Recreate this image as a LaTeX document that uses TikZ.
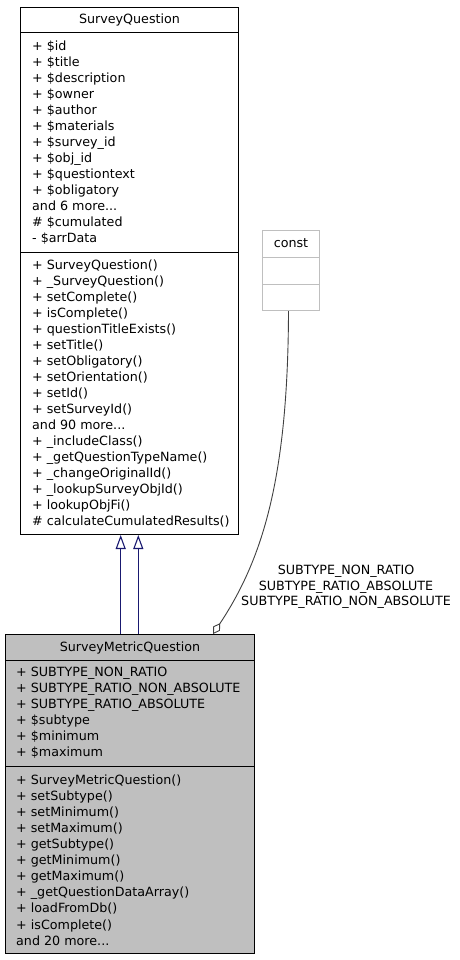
\documentclass[tikz,border=0pt]{standalone}
\usepackage{fontspec}
\setmainfont{DejaVu Sans}
\usetikzlibrary{arrows.meta,calc}
\definecolor{inhblue}{HTML}{191970}
\definecolor{aggray}{HTML}{404040}
\definecolor{boxgray}{HTML}{BFBFBF}
\definecolor{constgray}{HTML}{BFBFBF}
\newcommand{\mydots}{...}
\tikzset{
  txt/.style={anchor=base west,inner sep=0pt,font=\fontsize{12.7}{16}\selectfont},
  ttl/.style={anchor=base,inner sep=0pt,font=\fontsize{12.7}{16}\selectfont},
  classbox/.style={draw=black,line width=1pt,inner sep=0pt,anchor=north west},
  divider/.style={draw=black,line width=1pt},
  inh/.style={draw=inhblue,line width=1.1pt,-{Triangle[open,length=14pt,width=10pt]}},
  agg/.style={draw=aggray,line width=0.9pt,-{Diamond[open,length=13pt,width=8pt]}},
}
\begin{document}
\begin{tikzpicture}[x=1pt,y=-1pt]
\useasboundingbox (0,0) rectangle (459,960);
% SurveyQuestion
\node[classbox,minimum width=218pt,minimum height=527pt] (sq) at (20,7) {};
\draw[divider] ($(sq.north west)+(0,26)$) -- ($(sq.north east)+(0,26)$);
\draw[divider] ($(sq.north west)+(0,245.7)$) -- ($(sq.north east)+(0,245.7)$);
\node[ttl] (sqt) at ($(sq.north)+(0,17)$) {SurveyQuestion};
\foreach \t [count=\i] in {+ \$id,+ \$title,+ \$description,+ \$owner,+ \$author,+ \$materials,+ \$survey\_id,+ \$obj\_id,+ \$questiontext,+ \$obligatory,and 6 more\mydots,\# \$cumulated,- \$arrData}
  \node[txt] (sqa\i) at ($(sq.north west)+(12,28+15.95*\i)$) {\t};
\foreach \t [count=\i] in {+ SurveyQuestion(),+ \_SurveyQuestion(),+ setComplete(),+ isComplete(),+ questionTitleExists(),+ setTitle(),+ setObligatory(),+ setOrientation(),+ setId(),+ setSurveyId(),and 90 more\mydots,+ \_includeClass(),+ \_getQuestionTypeName(),+ \_changeOriginalId(),+ \_lookupSurveyObjId(),+ lookupObjFi(),\# calculateCumulatedResults()}
  \node[txt] (sqm\i) at ($(sq.north west)+(12,246.3+16*\i)$) {\t};
% const
\node[classbox,draw=constgray,minimum width=57pt,minimum height=80pt] (const) at (262,230) {};
\draw[divider,draw=constgray] ($(const.north west)+(0,27)$) -- ($(const.north east)+(0,27)$);
\draw[divider,draw=constgray] ($(const.north west)+(0,54)$) -- ($(const.north east)+(0,54)$);
\node[ttl] (constt) at ($(const.north)+(0,17.7)$) {const};
% SurveyMetricQuestion
\node[classbox,fill=boxgray,minimum width=249pt,minimum height=319pt] (smq) at (5,634) {};
\draw[divider] ($(smq.north west)+(0,26)$) -- ($(smq.north east)+(0,26)$);
\draw[divider] ($(smq.north west)+(0,132)$) -- ($(smq.north east)+(0,132)$);
\node[ttl] (smqt) at ($(smq.north)+(0,17.7)$) {SurveyMetricQuestion};
\foreach \t [count=\i] in {+ SUBTYPE\_NON\_RATIO,+ SUBTYPE\_RATIO\_NON\_ABSOLUTE,+ SUBTYPE\_RATIO\_ABSOLUTE,+ \$subtype,+ \$minimum,+ \$maximum}
  \node[txt] (smqa\i) at ($(smq.north west)+(11,26.7+16*\i)$) {\t};
\foreach \t [count=\i] in {+ SurveyMetricQuestion(),+ setSubtype(),+ setMinimum(),+ setMaximum(),+ getSubtype(),+ getMinimum(),+ getMaximum(),+ \_getQuestionDataArray(),+ loadFromDb(),+ isComplete(),and 20 more\mydots}
  \node[txt] (smqm\i) at ($(smq.north west)+(11,134+16.1*\i)$) {\t};
% inheritance edges
\coordinate (i1s) at ($(smq.north west)+(115.7,0)$);
\coordinate (i1e) at ($(sq.south west)+(100.7,0)$);
\coordinate (i2s) at ($(smq.north west)+(133.3,0)$);
\coordinate (i2e) at ($(sq.south west)+(118.3,0)$);
\draw[inh] (i1s) -- (i1e);
\draw[inh] (i2s) -- (i2e);
% aggregation edge
\coordinate (as) at ($(const.south)+(-2.5,0)$);
\coordinate (ae) at ($(smq.north west)+(208,0)$);
\draw[agg] (as) .. controls (288,480) and (262,560) .. (ae);
\node[inner sep=0pt,align=center,font=\fontsize{12.7}{15.5}\selectfont] (lbl) at (346,587) {SUBTYPE\_NON\_RATIO\\SUBTYPE\_RATIO\_ABSOLUTE\\SUBTYPE\_RATIO\_NON\_ABSOLUTE};
\end{tikzpicture}
\end{document}
